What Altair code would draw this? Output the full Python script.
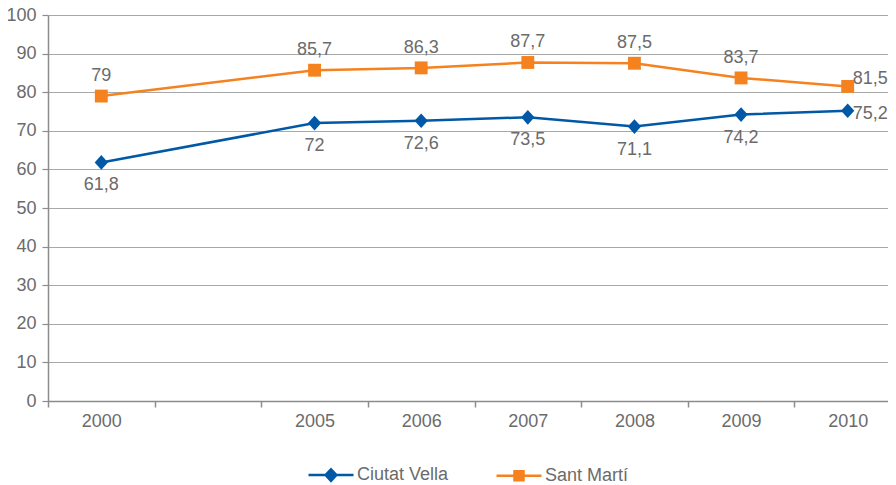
import altair as alt
import pandas as pd

years = ["2000", "2005", "2006", "2007", "2008", "2009", "2010"]
x_domain = ["2000", " ", "2005", "2006", "2007", "2008", "2009", "2010"]
ciutat_vella = [61.8, 72, 72.6, 73.5, 71.1, 74.2, 75.2]
sant_marti = [79, 85.7, 86.3, 87.7, 87.5, 83.7, 81.5]
series_names = ["Ciutat Vella", "Sant Martí"]
series_colors = ["#0058A6", "#F5821F"]
y_ticks = [0, 10, 20, 30, 40, 50, 60, 70, 80, 90, 100]


def fmt(v):
    return f"{v:g}".replace(".", ",")


rows = []
for name, vals in zip(series_names, [ciutat_vella, sant_marti]):
    for yr, v in zip(years, vals):
        rows.append({"year": yr, "value": v, "series": name, "label": fmt(v)})
df = pd.DataFrame(rows)

FONT = "Liberation Sans"
GRAY = "#6b6b6b"

x_enc = alt.X(
    "year:N",
    bandPosition=0.5,
    scale=alt.Scale(type="band", domain=x_domain, range=[0, 853],
                    paddingInner=0, paddingOuter=0),
    axis=alt.Axis(
        title=None, labelAngle=0, tickBand="extent", grid=False,
        tickSize=6, labelPadding=5, domainColor="#8c8c8c", tickColor="#8c8c8c",
        domainWidth=1.5, tickWidth=1.5,
    ),
)
y_enc = alt.Y(
    "value:Q",
    scale=alt.Scale(domain=[0, 100], nice=False, zero=True),
    axis=alt.Axis(
        title=None, values=y_ticks, grid=True, gridColor="#a8a8a8", gridWidth=1,
        tickSize=6, labelPadding=6, domainColor="#8c8c8c", tickColor="#8c8c8c",
        domainWidth=1.5, tickWidth=1.2,
    ),
)
color_enc = alt.Color(
    "series:N", scale=alt.Scale(domain=series_names, range=series_colors), legend=None
)

base = alt.Chart(df)

lines = base.mark_line(strokeWidth=2.5).encode(x=x_enc, y=y_enc, color=color_enc)

pts_cv = base.transform_filter(alt.datum.series == "Ciutat Vella").mark_point(
    filled=True, opacity=1, size=196, shape="M0,-1.05L0.95,0L0,1.05L-0.95,0Z"
).encode(x=x_enc, y=y_enc, color=color_enc)

pts_sm = base.transform_filter(alt.datum.series == "Sant Martí").mark_point(
    filled=True, opacity=1, size=196, shape="M-0.92,-0.92H0.92V0.92H-0.92Z"
).encode(x=x_enc, y=y_enc, color=color_enc)

text_style = dict(fontSize=18, font=FONT, color=GRAY, baseline="middle")

lab_sm = base.transform_filter(
    (alt.datum.series == "Sant Martí") & (alt.datum.year != "2010")
).mark_text(dy=-20, **text_style).encode(x=x_enc, y=y_enc, text="label:N")

lab_cv = base.transform_filter(
    (alt.datum.series == "Ciutat Vella") & (alt.datum.year != "2010")
).mark_text(dy=23, **text_style).encode(x=x_enc, y=y_enc, text="label:N")

lab_sm_last = base.transform_filter(
    (alt.datum.series == "Sant Martí") & (alt.datum.year == "2010")
).mark_text(dy=-7, dx=5, align="left", **text_style).encode(x=x_enc, y=y_enc, text="label:N")

lab_cv_last = base.transform_filter(
    (alt.datum.series == "Ciutat Vella") & (alt.datum.year == "2010")
).mark_text(dy=3, dx=5, align="left", **text_style).encode(x=x_enc, y=y_enc, text="label:N")

legend_props = dict(
    orient="none", legendX=259, legendY=436, direction="horizontal", title=None,
    symbolSize=2025, symbolStrokeWidth=2.5, symbolOpacity=1, labelFontSize=18,
    labelFont=FONT, labelColor=GRAY, labelOffset=2, columnPadding=42,
)
legend_shapes = [
    "M-1,0H1M0,-0.26L0.24,0L0,0.26L-0.24,0Z"
    "M0,-0.17L0.16,0L0,0.17L-0.16,0ZM0,-0.08L0.07,0L0,0.08L-0.07,0Z",
    "M-1,0H1M-0.2,-0.2H0.2V0.2H-0.2Z"
    "M-0.13,-0.13H0.13V0.13H-0.13ZM-0.06,-0.06H0.06V0.06H-0.06Z",
]
legend_layer = base.mark_point(filled=False, opacity=1).encode(
    x=x_enc,
    y=y_enc,
    stroke=alt.Stroke("series:N", scale=alt.Scale(domain=series_names, range=series_colors),
                      legend=alt.Legend(**legend_props)),
    shape=alt.Shape("series:N", scale=alt.Scale(domain=series_names, range=legend_shapes),
                    legend=alt.Legend(**legend_props)),
    size=alt.value(0),
)

chart = (
    alt.layer(lines, pts_cv, pts_sm, lab_sm, lab_cv, lab_sm_last, lab_cv_last, legend_layer)
    .resolve_scale(stroke="independent", shape="independent")
    .properties(
        width=840, height=386,
        padding={"left": 40, "top": 7, "right": 0, "bottom": 86},
        autosize=alt.AutoSizeParams(type="none"),
    )
    .configure_view(stroke=None)
    .configure_axis(labelFont=FONT, labelFontSize=18, labelColor=GRAY)
)

chart.save("out.html", embed_options={"renderer": "svg", "actions": False})
